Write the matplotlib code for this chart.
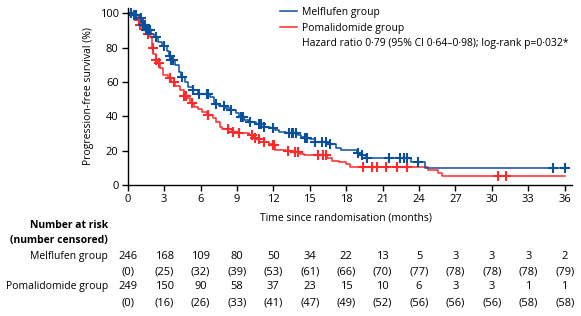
import numpy as np
import matplotlib
matplotlib.use("Agg")
import matplotlib.pyplot as plt
from matplotlib.lines import Line2D
import matplotlib.transforms as mtransforms

plt.rcParams['font.family'] = ['Open Sans', 'DejaVu Sans']

# ---- data ----
mel_t = [0, 0.5, 1.0, 1.2, 1.5, 1.9, 2.2, 2.5, 2.8, 3.2, 3.4, 3.6, 3.9, 4.2, 4.4, 4.7, 5.0, 5.4,
         5.8, 6.8, 7.1, 7.5, 8.0, 8.5, 8.9, 9.2, 9.6, 10.0, 10.6, 11.2, 11.7, 12.1, 12.5, 13.0,
         14.0, 14.3, 14.6, 15.0, 15.4, 16.5, 17.2, 17.6, 18.9, 19.3, 19.6, 23.3, 24.5, 36.0]
mel_s = [100, 99, 97, 93, 90, 88, 86, 83, 81, 78, 75, 73, 70, 66, 63, 60, 57, 55,
         53, 51, 47, 46, 45, 43.5, 42, 39.5, 38, 36.5, 35.5, 34, 33, 32, 31, 30,
         29, 28, 27.5, 26.5, 25.2, 23.7, 21.4, 20.4, 18.6, 17.7, 15.5, 13.2, 9.7, 9.7]
mel_cens = [0.3, 0.5, 0.7, 1.1, 1.3, 1.4, 1.5, 1.6, 1.7, 1.8, 2.3, 3.0, 3.5, 3.6, 3.7, 4.5,
            5.4, 5.9, 6.5, 6.6, 7.3, 7.9, 8.5, 9.3, 9.4, 9.5, 10.1, 10.8, 11.0, 11.2, 12.0,
            13.3, 13.5, 13.6, 13.9, 14.6, 14.8, 15.4, 16.0, 16.3, 16.7, 19.0, 19.3, 19.7,
            21.5, 22.4, 22.8, 23.0, 23.9, 35.0, 36.0]

pom_t = [0, 0.6, 0.8, 1.0, 1.2, 1.5, 1.8, 2.0, 2.1, 2.3, 2.5, 2.7, 2.9, 3.3, 3.6, 3.9, 4.3,
         4.6, 4.9, 5.1, 5.5, 5.8, 6.1, 6.5, 7.0, 7.3, 7.6, 7.8, 8.6, 9.2, 10.0, 10.3, 10.7,
         11.2, 11.6, 11.9, 12.1, 13.0, 13.8, 14.2, 14.5, 16.4, 16.8, 17.4, 18.0, 18.3, 24.7,
         25.6, 25.9, 36.0]
pom_s = [100, 98, 96, 93, 90, 88, 86, 80, 76, 73, 71, 68, 64, 62, 60, 57.5, 55,
         52, 50.5, 48, 45.5, 44, 42.5, 41, 39, 36.5, 34, 32.5, 31, 30, 29, 27.5, 26.5,
         25, 24, 23, 20.5, 19.6, 19, 18.3, 17.5, 15.5, 14.2, 13.2, 12.2, 10.7, 8.7,
         6.8, 5.2, 5.2]
pom_cens = [0.9, 1.0, 1.7, 2.05, 2.35, 2.55, 3.5, 3.8, 4.6, 4.8, 5.3, 6.6, 8.3, 8.65, 9.2,
            10.2, 10.5, 10.8, 11.2, 11.95, 12.05, 13.2, 13.8, 14.0, 15.7, 16.1, 16.3,
            19.4, 20.1, 20.5, 21.3, 22.2, 23.0, 30.5, 31.2]

tick_months = [0, 3, 6, 9, 12, 15, 18, 21, 24, 27, 30, 33, 36]
mel_risk = [246, 168, 109, 80, 50, 34, 22, 13, 5, 3, 3, 3, 2]
mel_censored = [0, 25, 32, 39, 53, 61, 66, 70, 77, 78, 78, 78, 79]
pom_risk = [249, 150, 90, 58, 37, 23, 15, 10, 6, 3, 3, 1, 1]
pom_censored = [0, 16, 26, 33, 41, 47, 49, 52, 56, 56, 56, 58, 58]

labels = ["Melflufen group", "Pomalidomide group"]
hr_text = "Hazard ratio 0\u00b779 (95% CI 0\u00b764\u20130\u00b798); log-rank p=0\u00b7032*"

BLUE = '#0b4f9f'
RED = '#ff2a2a'
FS = 7.5
NUM_FS = 8.0

W, H = 581, 316
fig = plt.figure(figsize=(W / 100, H / 100), dpi=100)
ax = fig.add_axes([127.7 / W, 1 - 185 / H, (572 - 127.7) / W, (185 - 8) / H])


def surv_at(times, t, s):
    t = np.asarray(t); s = np.asarray(s)
    idx = np.searchsorted(t, times, side='right') - 1
    return s[idx]


for t, s, c, cens in [(pom_t, pom_s, RED, pom_cens), (mel_t, mel_s, BLUE, mel_cens)]:
    ax.step(t, s, where='post', color=c, lw=1.1)
    ax.plot(cens, surv_at(cens, t, s), ls='none', marker='+', ms=7, mew=1.5, color=c)

ax.set_xlim(0, 36.6)
ax.set_ylim(0, 103)
ax.set_xticks(tick_months)
ax.set_yticks([0, 20, 40, 60, 80, 100])
for sp in ['top', 'right']:
    ax.spines[sp].set_visible(False)
for sp in ['left', 'bottom']:
    ax.spines[sp].set_linewidth(1.0)
ax.spines['left'].set_bounds(0, 103)
ax.tick_params(direction='out', length=4, width=1.0, labelsize=NUM_FS, pad=2.5, colors='black')
ax.set_ylabel("Progression-free survival (%)", fontsize=FS, labelpad=4)

trans = mtransforms.blended_transform_factory(ax.transData, fig.transFigure)
fig.text(ax.transData.transform((18, 0))[0] / W, 1 - 218 / H,
         "Time since randomisation (months)", fontsize=FS, ha='center', va='center')

# legend
handles = [Line2D([], [], color=BLUE, lw=1.1), Line2D([], [], color=RED, lw=1.1),
           Line2D([], [], color='none')]
leg = fig.legend(handles, labels + [hr_text], loc='upper left',
                 bbox_to_anchor=(280 / W, 1 - 7 / H), bbox_transform=fig.transFigure,
                 frameon=False, fontsize=FS, handlelength=1.65, handletextpad=0.5,
                 borderpad=0, borderaxespad=0, labelspacing=0.45)

# number at risk table
lab_x = 108 / W
fig.text(lab_x, 1 - 225.7 / H, "Number at risk", fontsize=FS, fontweight='bold', ha='right', va='center')
fig.text(lab_x, 1 - 241 / H, "(number censored)", fontsize=FS, fontweight='bold', ha='right', va='center')
fig.text(lab_x, 1 - 256.7 / H, labels[0], fontsize=FS, ha='right', va='center')
fig.text(lab_x, 1 - 286.7 / H, labels[1], fontsize=FS, ha='right', va='center')
rows = [(mel_risk, 256.7, False), (mel_censored, 272.3, True),
        (pom_risk, 286.7, False), (pom_censored, 302.7, True)]
for vals, ypx, paren in rows:
    for m, v in zip(tick_months, vals):
        txt = f"({v})" if paren else f"{v}"
        ax.text(m, 1 - ypx / H, txt, transform=trans, fontsize=NUM_FS, ha='center', va='center')

fig.savefig("out.png", dpi=100)
